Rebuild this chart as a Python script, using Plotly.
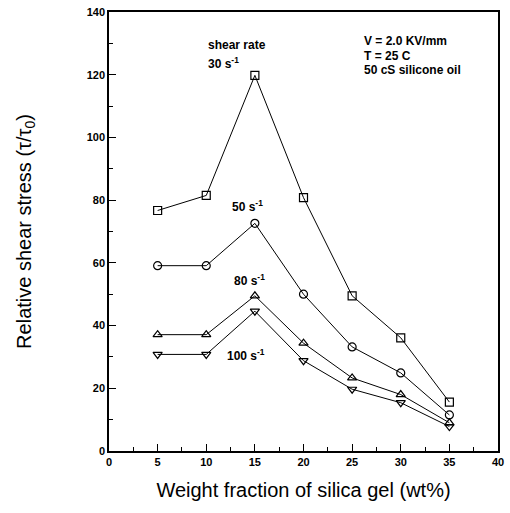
import plotly.graph_objects as go

# Silica gel weight fraction (wt%)
wt_frac = [5, 10, 15, 20, 25, 30, 35]

# Relative shear stress (tau/tau0) per shear rate
stress_30 = [76.7, 81.5, 119.8, 80.8, 49.5, 36.1, 15.6]
stress_50 = [59.1, 59.1, 72.6, 50.0, 33.2, 24.9, 11.5]
stress_80 = [37.1, 37.1, 49.5, 34.4, 23.3, 18.0, 9.0]
stress_100 = [30.8, 30.8, 44.6, 28.8, 19.7, 15.4, 7.8]

series = [
    (stress_30, "square-open"),
    (stress_50, "circle-open"),
    (stress_80, "triangle-up-open"),
    (stress_100, "triangle-down-open"),
]

fig = go.Figure()
for ys, sym in series:
    fig.add_trace(go.Scatter(
        x=wt_frac, y=ys, mode="lines+markers",
        line=dict(color="black", width=1),
        marker=dict(symbol=sym, size=8, color="black", line=dict(width=1.2)),
        showlegend=False,
    ))

font = "Liberation Sans, Arial, sans-serif"

# annotation positions in pixels, converted to data coordinates
def to_x(px):
    return (px - 109) / 388.5 * 40


def to_y(py):
    return (451 - py) / 439 * 140


notes = [
    (206, 45, "shear rate"),
    (206, 63, "30 s<sup>-1</sup>"),
    (230, 206, "50 s<sup>-1</sup>"),
    (232, 280, "80 s<sup>-1</sup>"),
    (225, 355, "100 s<sup>-1</sup>"),
]
for px, py, txt in notes:
    fig.add_annotation(
        x=to_x(px), y=to_y(py),
        text=txt, showarrow=False, xanchor="left", yanchor="middle",
        font=dict(family=font, size=12, color="black", weight="bold"),
    )

for py, txt in [(41, "V = 2.0 KV/mm"), (55.5, "T = 25 C"), (70, "50 cS silicone oil")]:
    fig.add_annotation(
        x=to_x(362), y=to_y(py),
        text=txt, showarrow=False, xanchor="left", yanchor="middle",
        font=dict(family=font, size=12, color="black", weight="bold"),
    )

axis_common = dict(
    showgrid=False, zeroline=False, showline=True, linecolor="black",
    linewidth=1.5, mirror=True, ticks="inside", ticklen=7, tickwidth=1,
    tickcolor="black", automargin=False,
    tickfont=dict(family=font, size=11, color="black", weight="bold"),
)

fig.update_xaxes(
    range=[0, 40], dtick=5, tick0=0,
    minor=dict(dtick=2.5, ticks="inside", ticklen=4, tickcolor="black"),
    title=dict(text="Weight fraction of silica gel (wt%)",
               font=dict(family=font, size=20, color="black"), standoff=16),
    **axis_common,
)
fig.update_yaxes(
    range=[0, 140], dtick=20, tick0=0,
    minor=dict(dtick=10, ticks="inside", ticklen=4, tickcolor="black"),
    title=dict(text="Relative shear stress (τ/τ<sub>0</sub>)",
               font=dict(family=font, size=20, color="black"), standoff=50),
    **axis_common,
)

fig.update_layout(
    width=510, height=513,
    margin=dict(l=109, r=12, t=12, b=62),
    paper_bgcolor="white", plot_bgcolor="white",
)

fig.write_html("out.html")
